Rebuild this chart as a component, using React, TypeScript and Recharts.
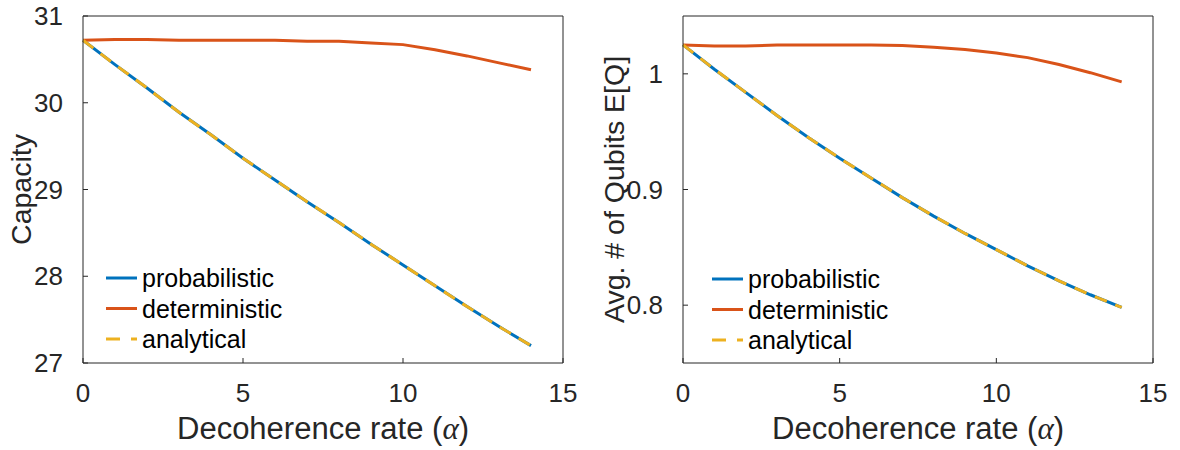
import { LineChart, Line, XAxis, YAxis, Legend } from 'recharts';

const alpha = [0, 1, 2, 3, 4, 5, 6, 7, 8, 9, 10, 11, 12, 13, 14];

// left panel: capacity
const capProbabilistic = [30.72, 30.44, 30.17, 29.89, 29.63, 29.36, 29.11, 28.86, 28.62, 28.37, 28.13, 27.89, 27.65, 27.42, 27.2];
const capDeterministic = [30.72, 30.73, 30.73, 30.72, 30.72, 30.72, 30.72, 30.71, 30.71, 30.69, 30.67, 30.61, 30.54, 30.46, 30.38];
const capAnalytical = [30.72, 30.44, 30.17, 29.89, 29.63, 29.36, 29.11, 28.86, 28.62, 28.37, 28.13, 27.89, 27.65, 27.42, 27.2];

// right panel: average number of qubits
const qubitProbabilistic = [1.025, 1.004, 0.984, 0.964, 0.945, 0.927, 0.91, 0.893, 0.877, 0.862, 0.848, 0.834, 0.821, 0.809, 0.798];
const qubitDeterministic = [1.025, 1.024, 1.024, 1.025, 1.025, 1.025, 1.025, 1.0245, 1.023, 1.021, 1.018, 1.014, 1.008, 1.001, 0.993];
const qubitAnalytical = [1.025, 1.004, 0.984, 0.964, 0.945, 0.927, 0.91, 0.893, 0.877, 0.862, 0.848, 0.834, 0.821, 0.809, 0.798];

const xTicks = [0, 5, 10, 15];
const capTicks = [27, 28, 29, 30, 31];
const qubitTicks = [0.8, 0.9, 1];

const series = [
  { key: 'probabilistic', color: '#0072BD', dash: undefined },
  { key: 'deterministic', color: '#D95319', dash: undefined },
  { key: 'analytical', color: '#EDB120', dash: '13 9' },
];

const FONT = '"Liberation Sans", Arial, Helvetica, sans-serif';
const INK = '#262626';

const toRows = (p: number[], d: number[], a: number[]) =>
  alpha.map((x, i) => ({ alpha: x, probabilistic: p[i], deterministic: d[i], analytical: a[i] }));

const capData = toRows(capProbabilistic, capDeterministic, capAnalytical);
const qubitData = toRows(qubitProbabilistic, qubitDeterministic, qubitAnalytical);

const XTitle = ({ viewBox }: any) => (
  <text
    x={viewBox.x + viewBox.width / 2}
    y={viewBox.y + 76}
    textAnchor="middle"
    fontFamily={FONT}
    fontSize={31}
    fill={INK}
  >
    Decoherence rate (
    <tspan fontFamily='"Liberation Serif", "DejaVu Serif", serif' fontStyle="italic">α</tspan>)
  </text>
);

const makeYTitle = (text: string, x: number) => ({ viewBox }: any) => {
  const cy = viewBox.y + viewBox.height / 2;
  return (
    <text
      x={x}
      y={cy}
      transform={`rotate(-90, ${x}, ${cy})`}
      textAnchor="middle"
      fontFamily={FONT}
      fontSize={28.5}
      fill={INK}
    >
      {text}
    </text>
  );
};

const LegendBox = () => (
  <svg width={240} height={100}>
    {series.map((s, i) => {
      const y = 17 + i * 30.5;
      return (
        <g key={s.key}>
          <line x1={6} x2={37} y1={y} y2={y} stroke={s.color} strokeWidth={3} strokeDasharray={s.dash ? '14 11' : undefined} />
          <text x={42} y={y} dominantBaseline="central" fontFamily={FONT} fontSize={25} fill="#000">
            {s.key}
          </text>
        </g>
      );
    })}
  </svg>
);

type PanelProps = {
  data: any[];
  yDomain: [number, number];
  yTicks: number[];
  yWidth: number;
  yTitle: string;
  yTitleX: number;
  legendLeft: number;
  legendTop: number;
};

const Panel = ({ data, yDomain, yTicks, yWidth, yTitle, yTitleX, legendLeft, legendTop }: PanelProps) => (
  <LineChart width={590} height={450} data={data} margin={{ top: 15, right: 26, bottom: 0, left: 0 }}>
    <XAxis
      dataKey="alpha"
      type="number"
      domain={[0, 15]}
      ticks={xTicks}
      interval={0}
      height={87}
      tickSize={-5}
      tickMargin={26}
      stroke={INK}
      tick={{ fontSize: 26, fill: INK, fontFamily: FONT }}
      label={{ content: XTitle }}
    />
    <XAxis xAxisId="top" orientation="top" type="number" domain={[0, 15]} ticks={xTicks} height={1} tickSize={-5} stroke={INK} tick={false} />
    <YAxis
      type="number"
      domain={yDomain}
      ticks={yTicks}
      interval={0}
      width={yWidth}
      tickSize={-5}
      tickMargin={25}
      stroke={INK}
      tick={{ fontSize: 26, fill: INK, fontFamily: FONT }}
      tickFormatter={(v: number) => String(v)}
      label={{ content: makeYTitle(yTitle, yTitleX) }}
    />
    <YAxis yAxisId="right" orientation="right" type="number" domain={yDomain} ticks={yTicks} width={1} tickSize={-5} stroke={INK} tick={false} />
    {series.map((s) => (
      <Line
        key={s.key}
        dataKey={s.key}
        type="linear"
        stroke={s.color}
        strokeWidth={3}
        strokeDasharray={s.dash}
        dot={false}
        isAnimationActive={false}
      />
    ))}
    <Legend
      layout="vertical"
      align="center"
      verticalAlign="middle"
      content={() => <LegendBox />}
      wrapperStyle={{ left: legendLeft, top: legendTop, width: 240, height: 100 }}
    />
  </LineChart>
);

export default function App() {
  return (
    <div style={{ position: 'absolute', left: 0, top: 0, width: 1180, height: 450, background: '#fff', display: 'flex' }}>
      <Panel
        data={capData}
        yDomain={[27, 31]}
        yTicks={capTicks}
        yWidth={83}
        yTitle="Capacity"
        yTitleX={31}
        legendLeft={100}
        legendTop={261}
      />
      <Panel
        data={qubitData}
        yDomain={[0.75, 1.05]}
        yTicks={qubitTicks}
        yWidth={93}
        yTitle="Avg. # of Qubits E[Q]"
        yTitleX={34}
        legendLeft={116}
        legendTop={262}
      />
    </div>
  );
}
